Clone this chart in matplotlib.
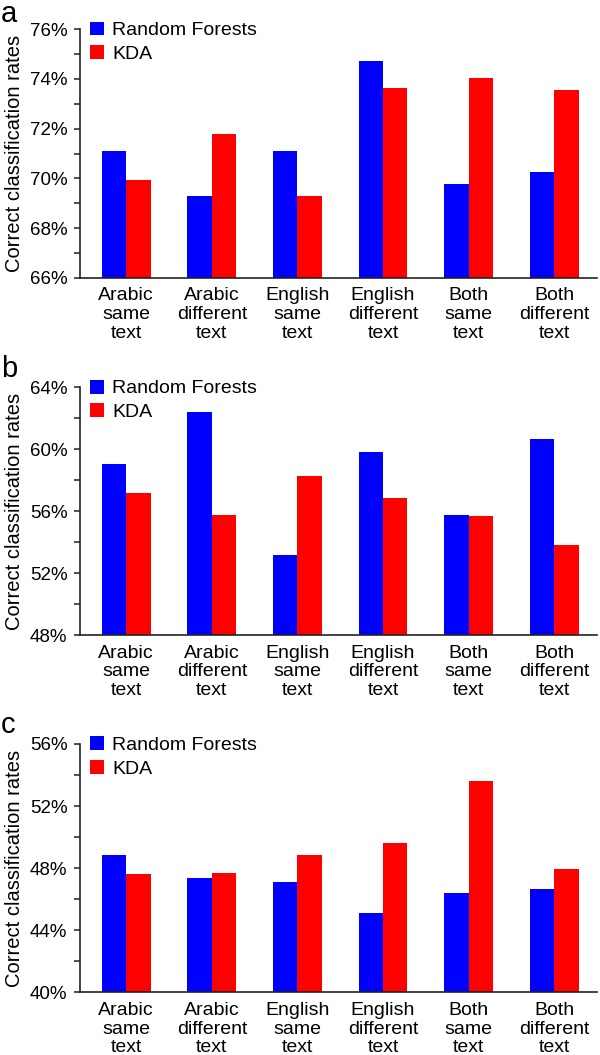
import matplotlib
matplotlib.use("Agg")
import matplotlib.pyplot as plt
import numpy as np
from matplotlib.ticker import MultipleLocator, FuncFormatter

plt.rcParams['font.family'] = ['Liberation Sans', 'DejaVu Sans']

categories = ["Arabic\nsame\ntext", "Arabic\ndifferent\ntext", "English\nsame\ntext",
              "English\ndifferent\ntext", "Both\nsame\ntext", "Both\ndifferent\ntext"]

# panel a
rf_a = [71.09, 69.29, 71.10, 74.72, 69.77, 70.27]
kda_a = [69.93, 71.77, 69.29, 73.62, 74.03, 73.57]
# panel b
rf_b = [59.07, 62.43, 53.15, 59.84, 55.75, 60.64]
kda_b = [57.17, 55.77, 58.27, 56.83, 55.71, 53.84]
# panel c
rf_c = [48.87, 47.39, 47.13, 45.09, 46.38, 46.68]
kda_c = [47.65, 47.69, 48.87, 49.60, 53.62, 47.93]

panels = [
    ("a", rf_a, kda_a, (66, 76), 2, 1),
    ("b", rf_b, kda_b, (48, 64), 4, 2),
    ("c", rf_c, kda_c, (40, 56), 4, 2),
]

W, H = 600, 1055
fig = plt.figure(figsize=(W / 100, H / 100), dpi=100)

# axes boxes in pixels: (top, bottom)
boxes = [(29.3, 277.7), (387.3, 635.0), (744.0, 992.3)]
label_base = [21.5, 377.0, 733.0]
left_px, right_px = 80, 597

x = np.arange(len(categories))
w = 0.285

for (lab, rf, kda, ylim, major, minor), (top, bot), lb in zip(panels, boxes, label_base):
    ax = fig.add_axes([left_px / W, 1 - bot / H, (right_px - left_px) / W, (bot - top) / H])
    ax.bar(x - w / 2, rf, w, color='#0000ff', label='Random Forests', zorder=2)
    ax.bar(x + w / 2, kda, w, color='#ff0000', label='KDA', zorder=2)
    ax.set_ylim(*ylim)
    ax.set_xlim(-0.54, 5.5)
    ax.set_xticks(x)
    ax.set_xticklabels(categories, fontsize=14, linespacing=1.12)
    ax.tick_params(axis='x', length=0, pad=7)
    ax.yaxis.set_major_locator(MultipleLocator(major))
    ax.yaxis.set_minor_locator(MultipleLocator(minor))
    ax.yaxis.set_major_formatter(FuncFormatter(lambda v, p: f"{v:.0f}%"))
    ax.tick_params(axis='y', which='both', direction='out', length=4, width=1.1,
                   labelsize=13.5, pad=5, color='#222222')
    for s in ['top', 'right']:
        ax.spines[s].set_visible(False)
    for s in ['left', 'bottom']:
        ax.spines[s].set_linewidth(1.2)
        ax.spines[s].set_color('#222222')
    ax.set_ylabel("Correct classification rates", fontsize=14.5)
    ax.yaxis.set_label_coords(-56 / (right_px - left_px), 0.5)
    ax.legend(loc='upper left', bbox_to_anchor=(0.0, 1.07), frameon=False, fontsize=14,
              handlelength=0.72, handleheight=0.72, handletextpad=0.45,
              labelspacing=0.3, borderpad=0, borderaxespad=0.5)
    fig.text(1 / W, 1 - lb / H, lab, fontsize=21, va='baseline', ha='left')

fig.savefig("out.png", dpi=100)
